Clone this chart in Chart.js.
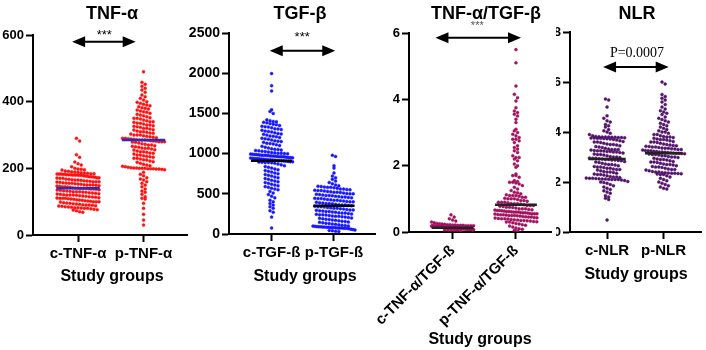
<!DOCTYPE html>
<html>
<head>
<meta charset="utf-8">
<script src="https://cdn.jsdelivr.net/npm/chart.js@4.4.1/dist/chart.umd.min.js"></script>
<style>
  html, body { margin: 0; padding: 0; background: #fff; }
  #wrap { position: relative; width: 706px; height: 350px; overflow: hidden; }
  canvas { position: absolute; top: 0; }
</style>
</head>
<body>
<div id="wrap">
  <canvas id="c1" width="192" height="350" style="left:0px"></canvas>
  <canvas id="c2" width="195" height="350" style="left:185px"></canvas>
  <canvas id="c3" width="194" height="350" style="left:362px"></canvas>
  <canvas id="c4" width="150" height="350" style="left:556px"></canvas>
</div>
<script>
// ---- data ----
const tnfGroups = ['c-TNF-α', 'p-TNF-α'];
const tnfTicks = [0, 200, 400, 600];
const tnfMedians = [140, 285];
const tnfControl = [
    290, 282, 241, 233, 219, 214, 210, 205,
    200, 198, 197, 196, 195,
    192, 191, 190, 189, 188, 187, 186,
    185, 184, 184, 183, 183, 183, 182, 182, 181, 181, 181, 180, 180, 180, 180, 179, 179, 178,
    177, 176, 175, 175, 174, 173, 172, 172, 171, 170, 170,
    168, 167, 166, 165, 165, 164, 163, 162, 161, 160, 160, 160, 159,
    158, 157, 156, 155, 155, 154, 153, 152, 151, 150, 150, 150, 149, 148,
    147, 146, 145, 145, 144, 143, 142, 141, 141, 140, 140, 140, 139, 138, 138,
    137, 136, 135, 134, 133, 132, 131, 130, 130, 130, 129, 128,
    127, 126, 125, 124, 123, 122, 121, 120, 120, 120, 119, 118,
    117, 116, 115, 114, 113, 112, 111, 110, 110, 110, 109, 108,
    107, 106, 105, 104, 103, 102, 101, 100, 100, 100, 99,
    97, 96, 95, 94, 93, 92, 91, 90, 90,
    89, 88, 87, 86, 85, 84, 83, 82, 82, 81, 80, 80, 79,
    77, 76, 75, 73, 70, 68
];
const tnfPatient = [
    490, 458, 452, 446, 440, 435, 428, 420, 415, 410, 405,
    400, 398, 395, 392, 390, 388, 385, 382, 380,
    378, 375, 372, 370, 368, 365, 362, 360, 358, 355,
    352, 350, 350, 348, 345, 343, 340, 340, 338, 336, 335, 333, 330, 330,
    328, 326, 325, 323, 320, 320, 318, 316, 315, 312, 310, 310,
    308, 306, 305, 303, 300, 300, 300, 298, 296, 295, 293, 292, 290, 290,
    289, 288, 287, 286, 285, 285, 285, 284, 283, 282, 281, 280, 280, 280, 279, 278,
    276, 274, 272, 270, 270, 268, 266, 265, 263, 261, 260, 260,
    258, 256, 255, 252, 250, 250, 248, 246, 245, 243, 240, 240,
    238, 236, 235, 233, 230, 230, 228, 226, 225, 222, 220,
    218, 215, 212, 210, 208, 206, 205,
    203, 202, 201, 201, 200, 200, 200, 199, 199, 199, 198, 198, 197, 196,
    188, 182, 178, 172, 168, 165, 160, 155, 150, 145, 138, 132, 128, 122, 115, 110, 108, 95, 80, 62, 45, 30
];

const tgfGroups = ['c-TGF-ß', 'p-TGF-ß'];
const tgfTicks = [0, 500, 1000, 1500, 2000, 2500];
const tgfMedians = [910, 350];
const tgfControl = [
    1995, 1845, 1780, 1545, 1525, 1500,
    1420, 1410, 1400, 1395, 1390, 1385, 1375, 1365, 1360,
    1350, 1340, 1335, 1330, 1320, 1310, 1305, 1300, 1290,
    1280, 1275, 1270, 1260, 1250, 1245, 1240, 1230, 1220, 1215, 1210,
    1200, 1190, 1185, 1180, 1170, 1160, 1155, 1150, 1140,
    1130, 1125, 1120, 1110, 1100, 1090, 1080, 1070, 1060,
    1055, 1050, 1045, 1040, 1035, 1030, 1025, 1020, 1015, 1010, 1005, 1005, 1000, 998, 995, 992,
    990, 988, 985, 982, 980, 980, 978, 975, 972, 970, 970, 968, 965, 962, 960, 960, 958, 955, 952,
    950, 948, 945, 942, 940, 938, 935, 932, 930, 928,
    925, 922, 920, 918, 915, 912, 910, 908, 905, 902, 900, 898, 895, 892, 890, 888, 885, 880,
    870, 860, 850, 840, 830, 820, 810, 800, 790,
    780, 770, 760, 750, 740, 730, 720, 710,
    700, 690, 680, 670, 660, 650, 640,
    630, 620, 610, 600, 590, 580, 570, 560,
    550, 530, 510, 490, 470, 450,
    420, 400, 380, 360, 340, 320, 290, 270, 210, 75
];
const tgfPatient = [
    980, 965, 850, 820, 760, 720, 700, 680, 660, 640, 625,
    610, 600, 595, 590, 585, 580, 580, 575, 570,
    560, 560, 555, 550, 545, 540, 540, 535, 530, 525, 520, 520, 515, 510,
    505, 500, 500, 495, 490, 485, 480, 480, 475, 470, 465, 460, 460,
    455, 450, 445, 440, 440, 435, 430, 425, 420, 420, 415, 410, 405,
    400, 400, 395, 390, 385, 380, 380, 375, 370, 365, 360, 360, 355, 350,
    345, 340, 340, 335, 330, 325, 320, 320, 315, 310, 305, 300, 300,
    295, 290, 285, 280, 280, 275, 270, 265, 260, 260, 255, 250,
    245, 240, 240, 235, 230, 225, 220, 220, 215, 210, 205, 200,
    195, 190, 185, 180, 175, 170, 165, 160, 155, 150,
    145, 140, 135, 130, 125, 120, 115, 110, 105,
    100, 98, 95, 92, 90, 90, 88, 86, 85, 84, 82, 80, 80, 78, 76, 75, 74, 72, 70, 70,
    65, 60, 55, 50, 45, 40, 35, 30
];

const ratioGroups = ['c-TNF-α/TGF-ß', 'p-TNF-α/TGF-ß'];
const ratioTicks = [0, 2, 4, 6];
const ratioMedians = [0.13, 0.82];
const ratioControl = [
    0.52, 0.45, 0.40, 0.36, 0.33, 0.30, 0.28, 0.26, 0.25, 0.24, 0.23, 0.22, 0.22, 0.21, 0.21,
    0.20, 0.20, 0.20, 0.19, 0.19, 0.19, 0.19, 0.18, 0.18, 0.18, 0.18, 0.18, 0.17, 0.17, 0.17,
    0.17, 0.17, 0.17, 0.16, 0.16, 0.16, 0.16, 0.16, 0.16, 0.16, 0.15, 0.15, 0.15, 0.15, 0.15,
    0.15, 0.15, 0.15, 0.14, 0.14, 0.14, 0.14, 0.14, 0.14, 0.14, 0.14, 0.14, 0.13, 0.13, 0.13,
    0.13, 0.13, 0.13, 0.13, 0.13, 0.13, 0.13, 0.12, 0.12, 0.12, 0.12, 0.12, 0.12, 0.12, 0.12,
    0.12, 0.11, 0.11, 0.11, 0.11, 0.11, 0.11, 0.11, 0.11, 0.10, 0.10, 0.10, 0.10, 0.10, 0.10,
    0.10, 0.09, 0.09, 0.09, 0.09, 0.09, 0.09, 0.08, 0.08, 0.08, 0.08, 0.08, 0.07, 0.07, 0.07,
    0.07, 0.06, 0.06, 0.06, 0.05, 0.05, 0.04
];
const ratioPatient = [
    5.5, 5.1, 4.4, 4.15, 4.05, 3.95, 3.75, 3.65, 3.6, 3.55, 3.5, 3.4, 3.3, 3.1, 3.05,
    3.0, 2.95, 2.9, 2.85, 2.8, 2.8, 2.75, 2.7, 2.6, 2.55, 2.5, 2.45, 2.4, 2.3, 2.25,
    2.25, 2.2, 2.15, 2.05, 2.0, 1.95, 1.75, 1.7, 1.7, 1.65, 1.55, 1.52, 1.5, 1.5, 1.48,
    1.45, 1.4, 1.35, 1.3, 1.25, 1.2, 1.18, 1.15, 1.12, 1.1, 1.1, 1.1, 1.08, 1.05, 1.05, 1.02, 1.0,
    1.0, 1.0, 0.98, 0.95, 0.95, 0.93, 0.9, 0.9, 0.9, 0.88, 0.86, 0.85, 0.85, 0.84, 0.82, 0.8, 0.8, 0.8, 0.78, 0.77,
    0.75, 0.75, 0.74, 0.72, 0.7, 0.7, 0.7, 0.68, 0.67, 0.66, 0.65, 0.65, 0.64, 0.63, 0.62, 0.62, 0.61, 0.6, 0.6, 0.6,
    0.59, 0.58, 0.58, 0.57, 0.56, 0.55, 0.55, 0.55, 0.54, 0.53, 0.52, 0.52, 0.51, 0.5, 0.5, 0.5, 0.49, 0.48, 0.47,
    0.46, 0.45, 0.45, 0.44, 0.43, 0.42, 0.41, 0.4, 0.4, 0.39, 0.38, 0.37, 0.36, 0.35, 0.35, 0.34, 0.33, 0.32,
    0.31, 0.3, 0.3, 0.28, 0.26, 0.24, 0.22, 0.2, 0.18, 0.15, 0.12, 0.1, 0.08, 0.05, 0.03
];

const nlrGroups = ['c-NLR', 'p-NLR'];
const nlrTicks = [0, 2, 4, 6, 8];
const nlrMedians = [2.92, 3.15];
const nlrControl = [
    5.32, 5.28, 5.0, 4.65, 4.55, 4.45, 4.4, 4.3, 4.25, 4.2, 4.1, 4.05, 4.0, 3.95, 3.9,
    3.85, 3.82, 3.81, 3.8, 3.8, 3.8, 3.79, 3.79, 3.78, 3.78, 3.77, 3.76, 3.76, 3.75, 3.75, 3.74, 3.73, 3.72,
    3.7, 3.68, 3.65, 3.62, 3.6, 3.6, 3.58, 3.55, 3.52, 3.5, 3.5, 3.48, 3.45, 3.42, 3.4,
    3.38, 3.35, 3.32, 3.3, 3.3, 3.3, 3.28, 3.26, 3.25, 3.25, 3.24, 3.22, 3.22, 3.2, 3.2, 3.18, 3.16,
    3.12, 3.1, 3.1, 3.08, 3.05, 3.02, 3.0, 3.0, 2.98, 2.96, 2.95, 2.95, 2.93, 2.92, 2.9, 2.9, 2.88, 2.88, 2.86, 2.85,
    2.82, 2.8, 2.78, 2.75, 2.72, 2.7, 2.7, 2.68, 2.65, 2.62, 2.6, 2.6, 2.58, 2.55, 2.55,
    2.52, 2.5, 2.5, 2.48, 2.45, 2.42, 2.4, 2.4, 2.38, 2.35, 2.32, 2.3, 2.3, 2.28, 2.25,
    2.22, 2.2, 2.2, 2.18, 2.16, 2.15, 2.15, 2.14, 2.13, 2.12, 2.12, 2.11, 2.1, 2.1, 2.1, 2.08, 2.06,
    2.02, 2.0, 1.98, 1.95, 1.9, 1.85, 1.8, 1.75, 1.7, 1.65, 1.6, 1.55, 1.45, 1.4, 1.35, 1.3, 0.48
];
const nlrPatient = [
    6.0, 5.92, 5.5, 5.42, 5.35, 5.28, 5.2, 5.1, 5.0, 4.92, 4.85, 4.8, 4.75, 4.7, 4.6, 4.55,
    4.5, 4.45, 4.4, 4.35, 4.3, 4.25, 4.2, 4.15, 4.1, 4.05, 4.0, 4.0, 3.95, 3.9, 3.9,
    3.85, 3.82, 3.8, 3.8, 3.78, 3.75, 3.72, 3.7, 3.7, 3.68, 3.65, 3.62, 3.6, 3.6, 3.58, 3.55,
    3.52, 3.5, 3.48, 3.46, 3.45, 3.43, 3.42, 3.4, 3.4, 3.38, 3.36, 3.35, 3.35, 3.33, 3.32, 3.3, 3.3,
    3.28, 3.26, 3.25, 3.25, 3.23, 3.22, 3.2, 3.2, 3.19, 3.18, 3.17, 3.16, 3.15, 3.15, 3.14, 3.13, 3.12, 3.1, 3.1,
    3.08, 3.05, 3.05, 3.02, 3.0, 3.0, 2.98, 2.95, 2.92, 2.9, 2.9, 2.88, 2.85, 2.82, 2.8, 2.8,
    2.78, 2.75, 2.72, 2.7, 2.7, 2.68, 2.65, 2.62, 2.6, 2.6, 2.58, 2.55, 2.52,
    2.5, 2.5, 2.48, 2.45, 2.42, 2.4, 2.4, 2.38, 2.37, 2.36, 2.35, 2.35, 2.34, 2.33, 2.32, 2.3, 2.3,
    2.25, 2.2, 2.15, 2.1, 2.05, 2.0, 1.95, 1.9, 1.85, 1.8, 1.75, 1.72
];

// ---- drawing ----
const FONT = "'Liberation Sans', Arial, sans-serif";
const DOT = 3.2;     // horizontal spacing between dots in a row (px)
const ROW = 4;       // row height used to group dots (px)
const MAXW = 42;     // widest a row may spread (px)

Chart.defaults.font.family = FONT;
Chart.defaults.color = '#000';

const panels = [
    {
        canvas: 'c1', title: 'TNF-α', groups: tnfGroups, ticks: tnfTicks, medians: tnfMedians,
        series: [tnfControl, tnfPatient], color: '#ff1111', medianColor: '#1f2fc0',
        xMin: -0.687, xMax: 1.672, yW: 33, xH: 60, padding: { top: 35, right: 1, bottom: 55, left: 0 },
        tickFont: 13, rotate: 0, titleX: 112, axisTitleX: 112, axisTitleY: 277,
        arrow: { y: 580, x0: -0.09, x1: 0.88 }, sig: { text: '***', x: 0.4, y: 598, font: '13px ' + FONT, color: '#000' }
    },
    {
        canvas: 'c2', title: 'TGF-β', groups: tgfGroups, ticks: tgfTicks, medians: tgfMedians,
        series: [tgfControl, tgfPatient], color: '#1818ff', medianColor: '#000',
        xMin: -0.683, xMax: 1.667, yW: 44, xH: 60, padding: { top: 33, right: 3, bottom: 56, left: 0 },
        tickFont: 14, rotate: 0, titleX: 115, axisTitleX: 120, axisTitleY: 277,
        arrow: { y: 2280, x0: -0.03, x1: 1.02 }, sig: { text: '***', x: 0.49, y: 2440, font: '13px ' + FONT, color: '#000' }
    },
    {
        canvas: 'c3', title: 'TNF-α/TGF-β', groups: ratioGroups, ticks: ratioTicks, medians: ratioMedians,
        series: [ratioControl, ratioPatient], color: '#a3125e', medianColor: '#222',
        xMin: -0.6875, xMax: 1.5625, yW: 47, xH: 112, padding: { top: 33, right: 3, bottom: 6, left: 0 },
        tickFont: 13, rotate: 45, titleX: 124, axisTitleX: 118, axisTitleY: 340,
        arrow: { y: 5.86, x0: -0.27, x1: 1.08 }, sig: { text: '***', x: 0.39, y: 6.2, font: '11px ' + FONT, color: '#555' }
    },
    {
        canvas: 'c4', title: 'NLR', groups: nlrGroups, ticks: nlrTicks, medians: nlrMedians,
        series: [nlrControl, nlrPatient], color: '#52146b', medianColor: '#222',
        xMin: -0.655, xMax: 1.672, yW: 14, xH: 60, padding: { top: 32, right: 1, bottom: 58, left: 0 },
        tickFont: 13, rotate: 0, titleX: 81, axisTitleX: 80, axisTitleY: 275,
        arrow: { y: 6.6, x0: -0.07, x1: 1.09 }, sig: { text: 'P=0.0007', x: 0.53, y: 7.16, font: "14px 'Liberation Serif', 'Times New Roman', serif", color: '#000' }
    }
];

function decoPlugin(p) {
    return {
        id: 'deco',
        afterDraw(chart) {
            const { ctx } = chart;
            const xs = chart.scales.x, ys = chart.scales.y;
            ctx.save();
            ctx.fillStyle = '#000';
            ctx.textAlign = 'center';
            ctx.textBaseline = 'middle';
            ctx.font = 'bold 18px ' + FONT;
            ctx.fillText(p.title, p.titleX, 14);
            ctx.font = 'bold 16px ' + FONT;
            ctx.fillText('Study groups', p.axisTitleX, p.axisTitleY);

            // double headed arrow between the groups
            const ay = ys.getPixelForValue(p.arrow.y);
            const a = xs.getPixelForValue(p.arrow.x0);
            const b = xs.getPixelForValue(p.arrow.x1);
            ctx.strokeStyle = '#000';
            ctx.lineWidth = 2;
            ctx.beginPath();
            ctx.moveTo(a + 8, ay);
            ctx.lineTo(b - 8, ay);
            ctx.stroke();
            ctx.beginPath();
            ctx.moveTo(a, ay);
            ctx.lineTo(a + 13, ay - 5.5);
            ctx.lineTo(a + 13, ay + 5.5);
            ctx.closePath();
            ctx.fill();
            ctx.beginPath();
            ctx.moveTo(b, ay);
            ctx.lineTo(b - 13, ay - 5.5);
            ctx.lineTo(b - 13, ay + 5.5);
            ctx.closePath();
            ctx.fill();

            ctx.font = p.sig.font;
            ctx.fillStyle = p.sig.color;
            ctx.fillText(p.sig.text, xs.getPixelForValue(p.sig.x), ys.getPixelForValue(p.sig.y));
            ctx.restore();
        }
    };
}

// spread each group's dots sideways in rows, like a scatter dot plot
function swarm(chart, series) {
    const xs = chart.scales.x, ys = chart.scales.y;
    const unit = xs.getPixelForValue(1) - xs.getPixelForValue(0);
    series.forEach((vals, g) => {
        const rows = {};
        vals.forEach(v => {
            const r = Math.round(ys.getPixelForValue(v) / ROW);
            (rows[r] = rows[r] || []).push(v);
        });
        const pts = [];
        Object.values(rows).forEach(row => {
            const n = row.length;
            const step = n > 1 ? Math.min(DOT, MAXW / (n - 1)) : 0;
            row.forEach((v, k) => pts.push({ x: g + (k - (n - 1) / 2) * step / unit, y: v }));
        });
        chart.data.datasets[g].data = pts;
    });
    chart.update('none');
}

panels.forEach(p => {
    const ctx = document.getElementById(p.canvas).getContext('2d');
    const dotSets = p.series.map(vals => ({
        type: 'scatter',
        data: vals.map(v => ({ x: 0, y: v })),
        backgroundColor: p.color,
        borderColor: p.color,
        pointRadius: 1.5,
        borderWidth: 0.4,
        order: 1
    }));
    const medianSets = p.medians.map((m, g) => ({
        type: 'line',
        data: [{ x: g - 0.33, y: m }, { x: g + 0.33, y: m }],
        borderColor: p.medianColor,
        borderWidth: 2.5,
        pointRadius: 0,
        order: 0
    }));

    const chart = new Chart(ctx, {
        type: 'scatter',
        data: { datasets: [...dotSets, ...medianSets] },
        options: {
            responsive: false,
            animation: false,
            devicePixelRatio: 1,
            layout: { padding: p.padding },
            plugins: { legend: { display: false }, tooltip: { enabled: false } },
            scales: {
                x: {
                    type: 'linear',
                    min: p.xMin,
                    max: p.xMax,
                    afterBuildTicks: s => { s.ticks = p.groups.map((_, i) => ({ value: i })); },
                    afterFit: s => { s.height = p.xH; s.paddingLeft = 0; s.paddingRight = 0; },
                    ticks: {
                        autoSkip: false,
                        minRotation: p.rotate,
                        maxRotation: p.rotate,
                        padding: 3,
                        font: { family: FONT, size: 15, weight: 'bold' },
                        color: '#000',
                        callback: v => p.groups[v]
                    },
                    grid: { display: true, drawOnChartArea: false, drawTicks: true, tickLength: 7, tickWidth: 2, tickColor: '#000' },
                    border: { display: true, color: '#000', width: 2 }
                },
                y: {
                    min: p.ticks[0],
                    max: p.ticks[p.ticks.length - 1],
                    afterBuildTicks: s => { s.ticks = p.ticks.map(v => ({ value: v })); },
                    afterFit: s => { s.width = p.yW; s.paddingTop = 0; s.paddingBottom = 0; },
                    ticks: {
                        padding: 2,
                        font: { family: FONT, size: p.tickFont, weight: 'bold' },
                        color: '#000',
                        callback: v => String(v)
                    },
                    grid: { display: true, drawOnChartArea: false, drawTicks: true, tickLength: 7, tickWidth: 2, tickColor: '#000' },
                    border: { display: true, color: '#000', width: 2 }
                }
            }
        },
        plugins: [decoPlugin(p)]
    });
    swarm(chart, p.series);
});
</script>
</body>
</html>
